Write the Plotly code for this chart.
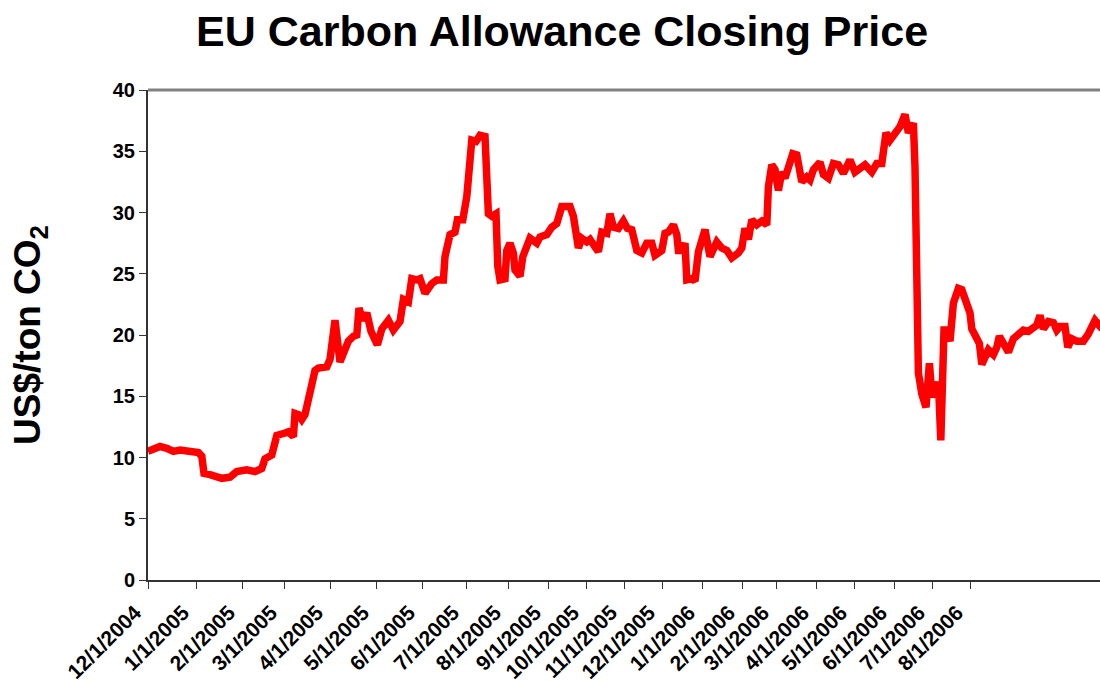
import plotly.graph_objects as go

# Trading-day index (x) and closing price in US$/ton CO2 (y)
trading_day = [
    0, 6, 9.4, 12.7, 16, 21, 25.2, 26.9, 28, 31, 36.9, 41, 44.4, 49.4, 53.5, 56.9, 58.5,
    61.9, 62.7, 64.4, 68.5, 70.2, 72.7, 73.5, 75.2, 76.9, 78.5, 80.2, 81.9, 83.5, 85.2,
    89.4, 91, 93.5, 96, 98.5, 100.2, 102.7, 104.4, 105.5, 107.4, 109.4, 111.5, 113.5,
    114.7, 116.9, 120.2, 122.7, 126, 127.7, 130.2, 131.9, 134.4, 136, 138.5, 141.9,
    144.4, 147.7, 148.5, 151, 153.5, 154.7, 157.4, 159.4, 161, 161.9, 164, 166, 168.5,
    169.4, 170.2, 171.9, 174, 174.9, 176, 178.5, 179.4, 181, 182.7, 183.5, 186, 187.4,
    189.4, 191, 194.4, 196, 199.4, 201.9, 204.4, 206.9, 211, 212.7, 215.2, 216.9, 219.4,
    221, 223.5, 225.2, 226.9, 229.4, 231, 232.7, 235.2, 237.7, 239.7, 241.9, 244.4,
    246.9, 249.4, 251.9, 253.5, 256.9, 258.5, 260.2, 262.7, 264.4, 265.2, 266.9, 268.5,
    269.4, 271.9, 273.5, 275.2, 278.5, 281, 284.4, 286.9, 289.4, 291.9, 295.2, 296.9,
    298.5, 300.2, 301.9, 304.4, 306.9, 309.4, 310.2, 311.9, 313.5, 315.2, 316.9, 318.5,
    320.2, 322.4, 324.4, 326.9, 329.4, 331, 332.7, 336, 337.7, 340.2, 342.7, 345.2,
    347.7, 351, 353.5, 356, 358.5, 361.9, 364.4, 366.9, 369, 371, 373.5, 376, 378.5,
    380.2, 382.7, 383.5, 385.2, 386.9, 389, 390.7, 391.9, 394.4, 395.2, 396.4, 398,
    399.4, 401, 402.7, 405.2, 406.9, 411, 411.9, 413.5, 415.7, 416.9, 418.5, 420.2,
    422.7, 424.4, 425.7, 427.7, 430.2, 432.7, 435.2, 437.7, 440.2, 442.7, 444.4, 446,
    447.7, 450.2, 452.7, 454.4, 456, 458.5, 459.9, 461.9, 464.4, 467.7, 470.2, 473.5,
    476, 478,
]
price = [
    10.5, 10.9, 10.75, 10.5, 10.6, 10.5, 10.4, 10.1, 8.7, 8.6, 8.3, 8.4, 8.85, 9.0, 8.85, 9.1, 9.9,
    10.2, 10.75, 11.8, 12.0, 12.1, 11.7, 13.6, 13.5, 13.1, 13.5, 14.7, 15.9, 17.1, 17.3,
    17.4, 18.0, 21.2, 17.8, 18.8, 19.5, 19.9, 20.0, 22.2, 21.2, 21.8, 20.3, 19.6,
    19.2, 20.5, 21.2, 20.4, 21.1, 22.9, 22.7, 24.6, 24.5, 24.6, 23.4, 24.2,
    24.5, 24.5, 26.4, 28.2, 28.4, 29.4, 29.4, 31.3, 33.5, 35.9, 35.8, 36.3, 36.2,
    33.5, 29.9, 29.7, 29.9, 25.6, 24.5, 24.6, 26.9, 27.5, 26.7, 25.3, 24.8, 26.4,
    27.5, 27.9, 27.5, 28.0, 28.2, 28.8, 29.1, 30.5, 30.5, 29.7, 27.1, 27.9, 27.6,
    27.8, 27.2, 26.8, 28.4, 28.3, 29.9, 28.8, 28.7, 29.3, 28.7, 28.6, 26.9,
    26.7, 27.5, 27.5, 26.5, 26.9, 28.3, 28.4, 29.0, 28.2, 26.9, 26.9, 27.5,
    24.5, 24.6, 24.4, 26.8, 28.6, 26.4, 27.6, 27.1, 26.9, 26.3, 26.7, 27.1,
    28.7, 27.8, 29.4, 29.0, 29.3, 29.0, 32.1, 33.9, 33.5, 31.8, 33.3, 32.8,
    33.5, 34.8, 34.7, 32.5, 32.9, 32.65, 33.5, 34.1, 33.1, 32.8, 34.0, 33.9,
    33.2, 34.3, 33.3, 33.7, 33.9, 33.3, 34.0, 34.0, 36.5, 35.9, 36.5, 37.0, 38.0,
    36.5, 37.3, 33.7, 16.9, 15.2, 14.1, 17.7, 15.2, 15.1, 16.2, 11.4, 20.4,
    20.4, 19.5, 22.6, 23.8, 23.7, 21.8, 20.5, 20.0, 19.3, 17.6, 18.1, 18.8,
    18.4, 19.0, 19.9, 19.2, 18.6, 19.7, 20.1, 20.4, 20.3, 20.7, 20.8, 21.6,
    20.5, 21.1, 21.0, 20.4, 20.7, 20.7, 19.0, 19.7, 19.5, 19.5, 20.1, 21.2,
    20.7, 20.9,
]

# Month-start tick labels and their trading-day index
month_labels = [
    "12/1/2004", "1/1/2005", "2/1/2005", "3/1/2005", "4/1/2005", "5/1/2005", "6/1/2005",
    "7/1/2005", "8/1/2005", "9/1/2005", "10/1/2005", "11/1/2005", "12/1/2005",
    "1/1/2006", "2/1/2006", "3/1/2006", "4/1/2006", "5/1/2006", "6/1/2006",
    "7/1/2006", "8/1/2006",
]
month_start_day = [0, 24, 47, 68, 91, 114, 137, 159, 180, 200, 219, 238, 257,
                   277, 297, 314, 334, 353, 373, 392, 411]

FONT = "Liberation Sans, Arial, sans-serif"

fig = go.Figure()
fig.add_trace(go.Scatter(
    x=trading_day, y=price, mode="lines",
    line=dict(color="#FF0000", width=7.5),
    hoverinfo="skip", showlegend=False,
))

fig.update_layout(
    width=1100, height=683,
    margin=dict(l=148, r=0, t=90, b=103),
    paper_bgcolor="white", plot_bgcolor="white",
    title=dict(text="<b>EU Carbon Allowance Closing Price</b>",
               font=dict(family=FONT, size=43, color="black"),
               x=0.511, xanchor="center", y=0.955, yanchor="middle"),
    xaxis=dict(range=[0, 476], tickmode="array", tickvals=month_start_day,
               ticktext=month_labels, tickangle=-45,
               ticks="outside", ticklen=7, tickwidth=1, tickcolor="#333",
               showline=True, linecolor="#333", linewidth=2,
               showgrid=False, zeroline=False, automargin=False,
               ticklabelshift=-13, ticklabelstandoff=3,
               tickfont=dict(family=FONT, size=21, color="black", weight="bold")),
    yaxis=dict(range=[0, 40], dtick=5, tick0=0,
               ticks="outside", ticklen=7, tickwidth=1, tickcolor="#333",
               showline=True, linecolor="#333", linewidth=2,
               showgrid=False, zeroline=False, automargin=False,
               tickfont=dict(family=FONT, size=20, color="black", weight="bold")),
    shapes=[dict(type="line", xref="paper", yref="paper", x0=0, x1=1, y0=1, y1=1,
                 line=dict(color="#808080", width=3))],
    annotations=[dict(text="<b>US$/ton CO<sub>2</sub></b>", xref="paper", yref="paper",
                      x=-0.124, y=0.5, xanchor="center", yanchor="middle",
                      textangle=-90, showarrow=False,
                      font=dict(family=FONT, size=37, color="black"))],
)

fig.write_html("out.html", config={"displayModeBar": False},
               post_script="document.body.style.margin='0';")
